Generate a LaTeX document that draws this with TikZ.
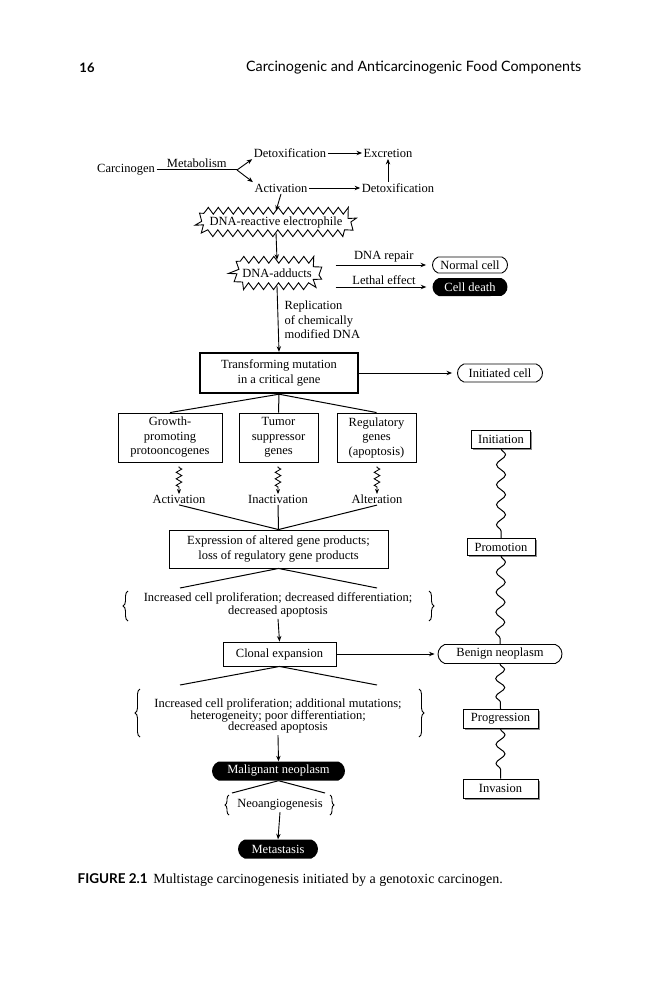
\documentclass[tikz,border=0pt]{standalone}
\usepackage{fontspec}
\setmainfont{Liberation Serif}
\newfontfamily\hdfont{Lato}
\usetikzlibrary{arrows.meta,decorations.pathmorphing,decorations.pathreplacing,shapes.misc,shadows,calc}
\begin{document}
\begin{tikzpicture}[x=1pt,y=-1pt,
  every node/.style={font=\fontsize{12.5}{14.5}\selectfont, inner sep=1.5pt},
  arr/.style={draw, line width=0.9pt, -{Stealth[length=5.5pt,width=4.4pt]}},
  ln/.style={draw, line width=1pt},
  box/.style={draw, line width=0.9pt, align=center},
  shbox/.style={draw, line width=0.9pt, fill=white, inner sep=2pt,
     general shadow={fill=black!45, shadow xshift=1.6pt, shadow yshift=-1.6pt}},
  oval/.style={rounded rectangle, rounded rectangle arc length=140, draw, line width=0.9pt, inner sep=0pt},
  blk/.style={rounded rectangle, rounded rectangle arc length=140, fill=black, text=white, inner sep=0pt},
  zz/.style={decorate, decoration={zigzag, segment length=6.5pt, amplitude=2.8pt, pre length=1pt, post length=5pt}, line width=0.85pt, -{Stealth[length=5pt,width=4pt]}},
  wav/.style={decorate, decoration={snake, segment length=20pt, amplitude=4.5pt}, line width=1pt},
  brc/.style={decorate, decoration={brace, amplitude=5pt}, line width=0.9pt},
  burst/.style={decorate, decoration={zigzag, segment length=10pt, amplitude=3.4pt}, line width=0.9pt}
]
\useasboundingbox (0,0) rectangle (662,1000);
\fill[white] (0,0) rectangle (662,1000);

% header
\node[font=\hdfont\bfseries\fontsize{13}{15}\selectfont] (pg) at (87,68) {16};
\node[font=\hdfont\fontsize{14.3}{16}\selectfont, anchor=east] (title) at (583,68) {Carcinogenic and Anticarcinogenic Food Components};

% top part
\node (carc) at (126,170) {Carcinogen};
\coordinate (br) at (237,170);
\node (detoxa) at (290,153) {Detoxification};
\node (excr) at (388,153) {Excretion};
\node (activ) at (281,188) {Activation};
\node (detoxb) at (398,188) {Detoxification};
\draw[ln] (carc.east) -- node[above, inner sep=2pt] (metab) {Metabolism} (br);
\draw[arr] (br) -- (detoxa.south west);
\draw[arr] (br) -- (activ.north west);
\draw[arr] (detoxa.east) -- (excr.west);
\draw[arr] (activ.east) -- (detoxb.west);
\draw[arr] (detoxb.north -| excr.south) -- (excr.south);

% DNA-reactive electrophile
\node[minimum width=158pt, minimum height=22pt] (elec) at (276,222) {DNA-reactive electrophile};
\draw[burst] ($(elec.north west)+(9,0)$) -- ($(elec.north east)+(-9,0)$) -- (elec.east)
  -- ($(elec.south east)+(-9,0)$) -- ($(elec.south west)+(9,0)$) -- (elec.west) -- cycle;
\draw[arr] (activ.south) -- (elec.north);

% DNA-adducts
\node[minimum width=89pt, minimum height=26pt] (add) at (277,273) {DNA-adducts};
\draw[burst] ($(add.north west)+(9,0)$) -- ($(add.north east)+(-9,0)$) -- (add.east)
  -- ($(add.south east)+(-9,0)$) -- ($(add.south west)+(9,0)$) -- (add.west) -- cycle;
\draw[arr] (elec.south) -- (add.north);

\node[oval, minimum width=75pt, minimum height=16pt] (normal) at (470,265) {Normal cell};
\node[blk, minimum width=75pt, minimum height=18pt] (death) at (470,287) {Cell death};
\draw[arr, shorten >=6pt] ([xshift=14pt]add.east |- normal.west) -- node[above, inner sep=2pt] (rep) {DNA repair} (normal.west);
\draw[arr, shorten >=6pt] ([xshift=14pt]add.east |- death.west) -- node[above, inner sep=2pt] (leth) {Lethal effect} (death.west);

% transforming mutation
\node[box, line width=2.4pt, minimum width=158pt, minimum height=40pt] (trans) at (279,373) {Transforming mutation\\in a critical gene};
\draw[arr] (add.south) -- (trans.north);
\node[anchor=west, align=left] (repl) at (283,320) {Replication\\of chemically\\modified DNA};
\node[oval, minimum width=85pt, minimum height=18pt] (init) at (500,373) {Initiated cell};
\draw[arr, shorten >=5pt] (trans.east) -- (init.west);

% gene boxes
\node[box, minimum width=104pt, minimum height=49pt] (grow) at (170,437.5) {Growth-\\promoting\\protooncogenes};
\node[box, minimum width=79pt, minimum height=49pt] (tum) at (278.5,437.5) {Tumor\\suppressor\\genes};
\node[box, minimum width=79pt, minimum height=49pt] (reg) at (376.5,437.5) {Regulatory\\genes\\(apoptosis)};
\draw[ln] (trans.south) -- (grow.north);
\draw[ln] (trans.south) -- (tum.north);
\draw[ln] (trans.south) -- (reg.north);

\node (actv) at (179,499) {Activation};
\node (inact) at (278,499) {Inactivation};
\node (alter) at (377,499) {Alteration};
\draw[zz] ([yshift=-4pt]grow.south -| actv.north) -- ([yshift=-1pt]actv.north);
\draw[zz] ([yshift=-4pt]tum.south -| inact.north) -- ([yshift=-1pt]inact.north);
\draw[zz] ([yshift=-4pt]reg.south -| alter.north) -- ([yshift=-1pt]alter.north);

\node[box, minimum width=219pt, minimum height=38pt] (expr) at (278.5,549) {Expression of altered gene products;\\loss of regulatory gene products};
\draw[ln] (actv.south) -- (expr.north);
\draw[ln] (inact.south) -- (expr.north);
\draw[ln] (alter.south) -- (expr.north);

\node[align=center, font=\fontsize{12.5}{13}\selectfont] (inc1) at (278,605) {Increased cell proliferation; decreased differentiation;\\decreased apoptosis};
\coordinate (c1l) at (180,588);
\coordinate (c1r) at (377,588);
\draw[ln] (expr.south) -- (c1l);
\draw[ln] (expr.south) -- (c1r);
\draw[brc] (128,621) -- (128,591);
\draw[brc] (429,591) -- (429,621);

\node[box, minimum width=113pt, minimum height=24pt] (clon) at (279.5,654) {Clonal expansion};
\draw[arr] (inc1.south) -- (clon.north);
\node[oval, minimum width=124pt, minimum height=19pt] (ben) at (500,654) {Benign neoplasm};
\draw[arr, shorten >=3pt] (clon.east) -- (ben.west);

\node[align=center, font=\fontsize{12.5}{11.8}\selectfont] (inc2) at (278,716) {Increased cell proliferation; additional mutations;\\heterogeneity; poor differentiation;\\decreased apoptosis};
\coordinate (c2l) at (180,685);
\coordinate (c2r) at (377,685);
\draw[ln] (clon.south) -- (c2l);
\draw[ln] (clon.south) -- (c2r);
\draw[brc] (140,737) -- (140,689);
\draw[brc] (419,689) -- (419,737);

\node[blk, minimum width=133pt, minimum height=19pt] (mal) at (278.5,771) {Malignant neoplasm};
\draw[arr] (inc2.south) -- (mal.north);
\node (neo) at (280,805) {Neoangiogenesis};
\coordinate (c3l) at (232,793);
\coordinate (c3r) at (325,793);
\draw[ln] (mal.south) -- (c3l);
\draw[ln] (mal.south) -- (c3r);
\draw[brc, decoration={amplitude=4pt}] (229,815) -- (229,795);
\draw[brc, decoration={amplitude=4pt}] (330,795) -- (330,815);
\node[blk, minimum width=80pt, minimum height=19pt] (meta) at (278,849) {Metastasis};
\draw[arr] (neo.south) -- (meta.north);

% right column
\node[shbox, minimum width=59pt, minimum height=18pt] (initn) at (501,439) {Initiation};
\node[shbox, minimum width=68pt, minimum height=17pt] (prom) at (501,547) {Promotion};
\node[shbox, minimum width=75pt, minimum height=19pt] (prog) at (500.5,719) {Progression};
\node[shbox, minimum width=75pt, minimum height=19pt] (inv) at (500.5,788.5) {Invasion};
\draw[wav] (initn.south) -- (prom.north);
\draw[wav] (prom.south) -- (ben.north);
\draw[wav, decoration={segment length=18pt}] (ben.south) -- (prog.north);
\draw[wav, decoration={segment length=19pt}] (prog.south) -- (inv.north);

% caption
\node[anchor=west, font=\fontsize{14}{16}\selectfont] (cap) at (76,880) {{\hdfont\bfseries\fontsize{13.5}{16}\selectfont FIGURE 2.1}\hspace{0.4em}Multistage carcinogenesis initiated by a genotoxic carcinogen.};
\end{tikzpicture}
\end{document}
